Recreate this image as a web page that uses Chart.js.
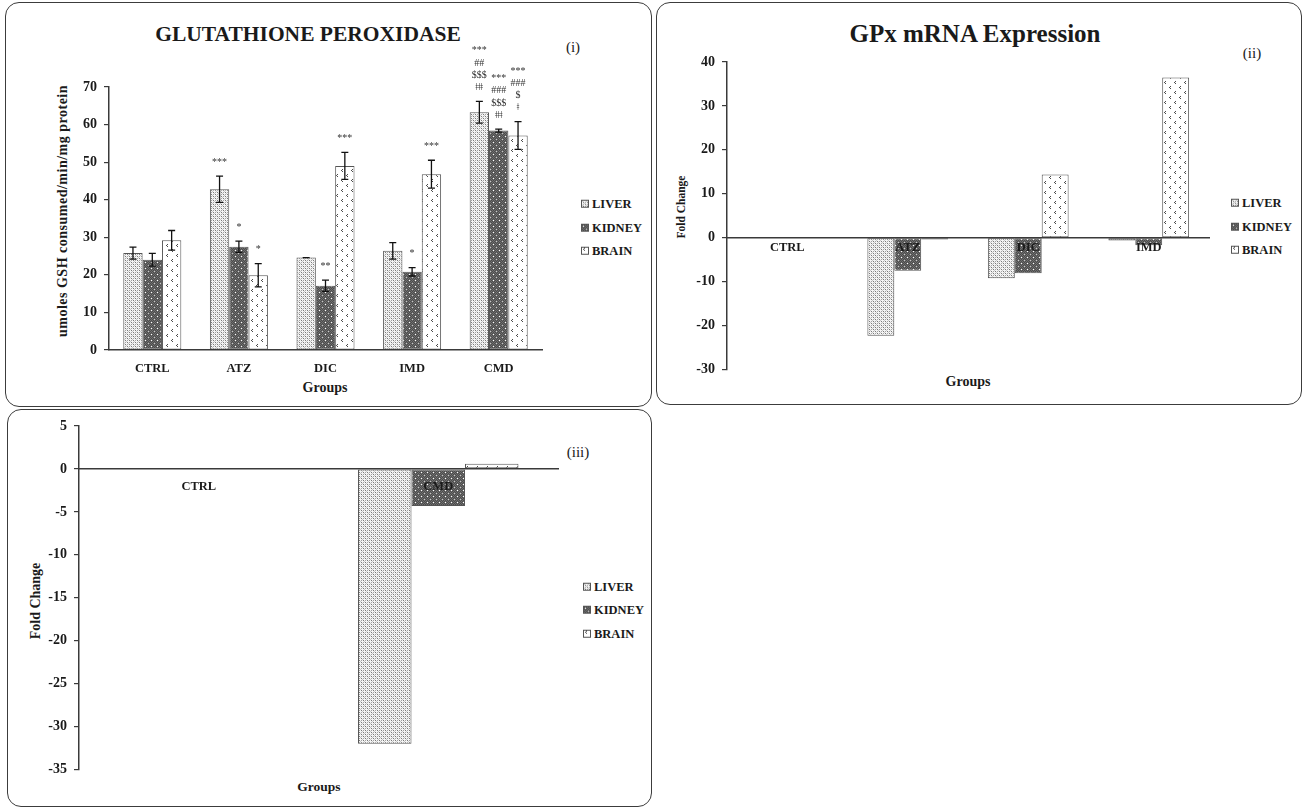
<!DOCTYPE html>
<html>
<head>
<meta charset="utf-8">
<script src="https://cdn.jsdelivr.net/npm/chart.js@4.4.0/dist/chart.umd.min.js"></script>
<style>
html,body{margin:0;padding:0;background:#fff;}
body{width:1306px;height:809px;position:relative;overflow:hidden;font-family:"Liberation Serif","DejaVu Serif",serif;color:#1a1a1a;}
.panel{position:absolute;border:1.5px solid #3c3c3c;border-radius:14px;box-sizing:border-box;}
canvas.chart{position:absolute;}
.t{position:absolute;white-space:nowrap;line-height:1;transform:translate(-50%,-50%);}
.b{font-weight:bold;}
.rot{transform:translate(-50%,-50%) rotate(-90deg);}
.leg{position:absolute;font-weight:bold;font-size:12.5px;line-height:1;white-space:nowrap;display:flex;align-items:center;transform:translateY(-50%);}
.leg canvas{margin-right:3px;}
</style>
</head>
<body>

<!-- panel frames -->
<div class="panel" style="left:5px;top:2px;width:647px;height:405px"></div>
<div class="panel" style="left:656px;top:2px;width:646px;height:403px"></div>
<div class="panel" style="left:7px;top:409px;width:645px;height:398px"></div>

<!-- panel (i) -->
<div class="t b" style="left:308px;top:35px;font-size:21.5px">GLUTATHIONE PEROXIDASE</div>
<div class="t" style="left:573px;top:47px;font-size:15px">(i)</div>
<div class="t b rot" style="left:63px;top:211px;font-size:14px;letter-spacing:0.5px">umoles GSH consumed/min/mg protein</div>
<div class="t b" style="left:325px;top:388px;font-size:14px">Groups</div>
<canvas class="chart" id="c1" width="493" height="352" style="left:59px;top:38px"></canvas>
<div class="leg" style="left:581px;top:204px"><canvas width="8" height="8" data-p="liver"></canvas>LIVER</div>
<div class="leg" style="left:581px;top:227.5px"><canvas width="8" height="8" data-p="kidney"></canvas>KIDNEY</div>
<div class="leg" style="left:581px;top:251px"><canvas width="8" height="8" data-p="brain"></canvas>BRAIN</div>

<!-- panel (ii) -->
<div class="t b" style="left:975px;top:33px;font-size:25px">GPx mRNA Expression</div>
<div class="t" style="left:1252px;top:53px;font-size:15px">(ii)</div>
<div class="t b rot" style="left:682px;top:207px;font-size:11.5px">Fold Change</div>
<div class="t b" style="left:968px;top:382px;font-size:14px">Groups</div>
<canvas class="chart" id="c2" width="545" height="340" style="left:677px;top:45px"></canvas>
<div class="leg" style="left:1231px;top:203px"><canvas width="8" height="8" data-p="liver"></canvas>LIVER</div>
<div class="leg" style="left:1231px;top:227px"><canvas width="8" height="8" data-p="kidney"></canvas>KIDNEY</div>
<div class="leg" style="left:1231px;top:250px"><canvas width="8" height="8" data-p="brain"></canvas>BRAIN</div>

<!-- panel (iii) -->
<div class="t" style="left:578px;top:452px;font-size:15px">(iii)</div>
<div class="t b rot" style="left:36px;top:601px;font-size:14px">Fold Change</div>
<div class="t b" style="left:319px;top:787px;font-size:13.5px">Groups</div>
<canvas class="chart" id="c3" width="540" height="375" style="left:29px;top:410px"></canvas>
<div class="leg" style="left:583px;top:587px"><canvas width="8" height="8" data-p="liver"></canvas>LIVER</div>
<div class="leg" style="left:583px;top:610px"><canvas width="8" height="8" data-p="kidney"></canvas>KIDNEY</div>
<div class="leg" style="left:583px;top:634px"><canvas width="8" height="8" data-p="brain"></canvas>BRAIN</div>

<script>
/* ---------- data: (i) enzyme activity, umoles GSH consumed/min/mg protein ---------- */
const GROUPS_I   = ["CTRL", "ATZ", "DIC", "IMD", "CMD"];
const GPX_LIVER  = [25.8, 42.8, 24.6, 26.4, 63.3];
const GPX_KIDNEY = [24.0, 27.5, 17.1, 20.8, 58.4];
const GPX_BRAIN  = [29.2, 19.9, 49.0, 46.8, 57.1];
const ERR_LIVER  = [1.6, 3.5, 0.0, 2.2, 2.9];
const ERR_KIDNEY = [1.7, 1.5, 1.5, 1.1, 0.4];
const ERR_BRAIN  = [2.6, 3.1, 3.6, 3.7, 3.7];
const SIG_LIVER  = ["", "***", "", "", "***\n##\n$$$\nǂǂǂ"];
const SIG_KIDNEY = ["", "*", "**", "*", "***\n###\n$$$\nǂǂǂ"];
const SIG_BRAIN  = ["", "*", "***", "***", "***\n###\n$\nǂ"];
const Y_I = { min: 0, max: 70, step: 10 };

/* ---------- (ii) GPx mRNA fold change ---------- */
const GROUPS_II   = ["CTRL", "ATZ", "DIC", "IMD"];
const MRNA_LIVER  = [0, -22.3, -9.2, -0.6];
const MRNA_KIDNEY = [0, -7.5, -8.1, -1.7];
const MRNA_BRAIN  = [0, -0.4, 14.4, 36.5];
const Y_II = { min: -30, max: 40, step: 10 };

/* ---------- (iii) combined mixture fold change ---------- */
const GROUPS_III = ["CTRL", "CMD"];
const CMD_LIVER  = [0, -32.0];
const CMD_KIDNEY = [0, -4.3];
const CMD_BRAIN  = [0, 0.6];
const Y_III = { min: -35, max: 5, step: 5 };

const FONT = "'Liberation Serif','DejaVu Serif',serif";
const AX = "#3a3a3a";
Chart.defaults.font.family = FONT;
Chart.defaults.color = "#1a1a1a";

/* ---------- fill patterns (Excel-style hatches) ---------- */
function tile(w, h, paint){ const c = document.createElement("canvas"); c.width = w; c.height = h; paint(c.getContext("2d")); return c; }
const TILES = {
  liver: tile(4, 4, g => {
    g.fillStyle = "#f4f4f4"; g.fillRect(0,0,4,4);
    g.fillStyle = "#7a7a7a"; g.fillRect(0,0,1,1); g.fillRect(2,2,1,1);
    g.fillStyle = "#a4a4a4"; g.fillRect(2,0,1,1); g.fillRect(0,2,1,1);
    g.fillStyle = "#c8c8c8"; g.fillRect(1,1,1,1); g.fillRect(3,3,1,1);
  }),
  kidney: tile(6, 6, g => {
    g.fillStyle = "#6e6e6e"; g.fillRect(0,0,6,6);
    g.fillStyle = "#4c4c4c";
    for (let y=0;y<6;y++) for (let x=0;x<6;x++) if ((x+y)%2===0) g.fillRect(x,y,1,1);
    g.fillStyle = "#fff"; g.fillRect(2,2,1,1);
    g.fillStyle = "#c8c8c8"; g.fillRect(5,5,1,1);
  }),
  brain: tile(10, 10, g => {
    g.fillStyle = "#fff"; g.fillRect(0,0,10,10);
    g.fillStyle = "#4a4a4a";
    g.fillRect(3,1,1,1); g.fillRect(2,2,1,1); g.fillRect(3,3,1,1);
    g.fillRect(8,6,1,1); g.fillRect(7,7,1,1); g.fillRect(8,8,1,1);
  })
};
const pat = (ctx, k) => ctx.createPattern(TILES[k], "repeat");

/* ---------- plugins: error bars + significance marks ---------- */
const errorBars = {
  id: "errorBars",
  afterDatasetsDraw(chart){
    const { ctx, scales:{ y } } = chart;
    chart.data.datasets.forEach((ds, i) => {
      if (!ds.errors) return;
      const meta = chart.getDatasetMeta(i);
      ctx.save(); ctx.strokeStyle = "#111"; ctx.lineWidth = 1.3;
      meta.data.forEach((bar, j) => {
        const v = ds.data[j], e = ds.errors[j];
        const top = y.getPixelForValue(v + e), bot = y.getPixelForValue(v - e), x = bar.x;
        ctx.beginPath();
        ctx.moveTo(x, top); ctx.lineTo(x, bot);
        ctx.moveTo(x-3.5, top); ctx.lineTo(x+3.5, top);
        ctx.moveTo(x-3.5, bot); ctx.lineTo(x+3.5, bot);
        ctx.stroke();
      });
      ctx.restore();
    });
  }
};
const sigMarks = {
  id: "sigMarks",
  afterDatasetsDraw(chart){
    const { ctx, scales:{ y } } = chart;
    chart.data.datasets.forEach((ds, i) => {
      if (!ds.sig) return;
      const meta = chart.getDatasetMeta(i);
      ctx.save();
      ctx.font = "10px " + FONT; ctx.fillStyle = "#333"; ctx.textAlign = "center"; ctx.textBaseline = "middle";
      meta.data.forEach((bar, j) => {
        if (!ds.sig[j]) return;
        const lines = ds.sig[j].split("\n");
        const base = y.getPixelForValue(ds.data[j] + (ds.errors ? ds.errors[j] : 0)) - 14;
        lines.forEach((t, k) => ctx.fillText(t, bar.x, base - (lines.length-1-k)*12.2));
      });
      ctx.restore();
    });
  }
};

/* ---------- chart factory ---------- */
function barChart(id, labels, series, yr, xOpts, pad){
  const cv = document.getElementById(id), ctx = cv.getContext("2d");
  const keys = ["liver", "kidney", "brain"], names = ["LIVER", "KIDNEY", "BRAIN"];
  return new Chart(cv, {
    type: "bar",
    data: { labels, datasets: series.map((s, i) => ({
      label: names[i], data: s.data, errors: s.errors, sig: s.sig,
      backgroundColor: pat(ctx, keys[i]), borderColor: "#555", borderWidth: 1, borderSkipped: false
    })) },
    options: {
      responsive: false, animation: false,
      layout: { padding: pad },
      datasets: { bar: { categoryPercentage: 0.67, barPercentage: 1.0 } },
      plugins: { legend: { display: false }, tooltip: { enabled: false } },
      scales: {
        x: Object.assign({
          grid: { display: false, drawTicks: false },
          border: { display: true, color: AX, width: 1.5, z: 1 }
        }, xOpts),
        y: {
          min: yr.min, max: yr.max,
          ticks: { stepSize: yr.step, font: { size: 14, weight: "bold" }, color: "#1a1a1a", padding: 7 },
          grid: { display: true, drawOnChartArea: false, drawTicks: true, tickLength: 5, color: AX, lineWidth: 1.2 },
          border: { display: true, color: AX, width: 1.5 },
          afterFit(s){ s.width = 50; }
        }
      }
    },
    plugins: [errorBars, sigMarks]
  });
}

const XT = pad => ({ font: { size: 12.5, weight: "bold" }, color: "#1a1a1a", maxRotation: 0, autoSkip: false, padding: pad, z: 1 });

barChart("c1", GROUPS_I, [
  { data: GPX_LIVER,  errors: ERR_LIVER,  sig: SIG_LIVER },
  { data: GPX_KIDNEY, errors: ERR_KIDNEY, sig: SIG_KIDNEY },
  { data: GPX_BRAIN,  errors: ERR_BRAIN,  sig: SIG_BRAIN }
], Y_I, { afterFit(s){ s.height = 40; }, ticks: XT(11) },
   { left: 0, right: 10, top: 49, bottom: 0 });

barChart("c2", GROUPS_II, [
  { data: MRNA_LIVER }, { data: MRNA_KIDNEY }, { data: MRNA_BRAIN }
], Y_II, { position: { y: 0 }, ticks: XT(2) },
   { left: 0, right: 13, top: 17, bottom: 13 });

barChart("c3", GROUPS_III, [
  { data: CMD_LIVER }, { data: CMD_KIDNEY }, { data: CMD_BRAIN }
], Y_III, { position: { y: 0 }, ticks: XT(10) },
   { left: 0, right: 11, top: 16, bottom: 12 });

/* ---------- legend swatches ---------- */
document.querySelectorAll(".leg canvas").forEach(c => {
  const g = c.getContext("2d");
  g.fillStyle = pat(g, c.dataset.p); g.fillRect(0, 0, 8, 8);
  g.strokeStyle = "#555"; g.lineWidth = 1; g.strokeRect(0.5, 0.5, 7, 7);
});
</script>
</body>
</html>
